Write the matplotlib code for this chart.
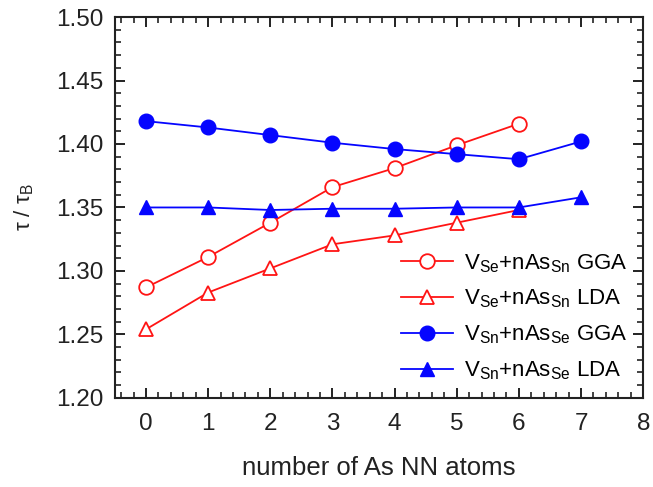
import matplotlib
matplotlib.use("Agg")
import matplotlib.pyplot as plt
from matplotlib.ticker import MultipleLocator, FormatStrFormatter

plt.rcParams['font.family'] = ['Liberation Sans', 'DejaVu Sans']
plt.rcParams['mathtext.fontset'] = 'custom'
plt.rcParams['mathtext.rm'] = 'Liberation Sans'
plt.rcParams['mathtext.it'] = 'Liberation Sans'
plt.rcParams['mathtext.bf'] = 'Liberation Sans:bold'

# number of As nearest-neighbour atoms
n_se = [0, 1, 2, 3, 4, 5, 6]
n_sn = [0, 1, 2, 3, 4, 5, 6, 7]

# lifetime ratios tau / tau_B
vse_gga = [1.287, 1.311, 1.338, 1.366, 1.381, 1.399, 1.416]
vse_lda = [1.254, 1.283, 1.302, 1.321, 1.328, 1.338, 1.348]
vsn_gga = [1.418, 1.413, 1.407, 1.401, 1.396, 1.392, 1.388, 1.402]
vsn_lda = [1.350, 1.350, 1.348, 1.349, 1.349, 1.350, 1.350, 1.358]

labels = [
    r'V$_{\mathrm{Se}}$+nAs$_{\mathrm{Sn}}$ GGA',
    r'V$_{\mathrm{Se}}$+nAs$_{\mathrm{Sn}}$ LDA',
    r'V$_{\mathrm{Sn}}$+nAs$_{\mathrm{Se}}$ GGA',
    r'V$_{\mathrm{Sn}}$+nAs$_{\mathrm{Se}}$ LDA',
]

fig = plt.figure(figsize=(6.53, 4.87), dpi=100)
ax = fig.add_axes([0.176, 0.183, 0.809, 0.782])

red = '#ff1414'
blue = '#0505ff'
ax.plot(n_se, vse_gga, '-o', color=red, lw=1.3, ms=10.5, mfc='white', mec=red, mew=1.3, label=labels[0])
ax.plot(n_se, vse_lda, '-^', color=red, lw=1.3, ms=10.5, mfc='white', mec=red, mew=1.3, label=labels[1])
ax.plot(n_sn, vsn_gga, '-o', color=blue, lw=1.3, ms=10.5, mfc=blue, mec=blue, label=labels[2])
ax.plot(n_sn, vsn_lda, '-^', color=blue, lw=1.3, ms=10.5, mfc=blue, mec=blue, label=labels[3])

ax.set_xlim(-0.5, 8)
ax.set_ylim(1.20, 1.50)
ax.xaxis.set_major_locator(MultipleLocator(1))
ax.xaxis.set_minor_locator(MultipleLocator(0.2))
ax.yaxis.set_major_locator(MultipleLocator(0.05))
ax.yaxis.set_minor_locator(MultipleLocator(0.01))
ax.yaxis.set_major_formatter(FormatStrFormatter('%.2f'))

ax.tick_params(which='both', direction='in', top=True, right=True, labelsize=17.5, colors='#222222')
ax.tick_params(which='major', length=7, width=1.4)
ax.tick_params(which='minor', length=4, width=1.2)
ax.tick_params(axis='x', which='major', pad=11)
ax.tick_params(axis='y', which='major', pad=8)
for s in ax.spines.values():
    s.set_linewidth(1.5)
    s.set_color('#222222')

ax.set_xlabel('number of As NN atoms', fontsize=18.5, labelpad=15, color='#222222')
ax.set_ylabel(r'τ / τ$_{\mathrm{B}}$', fontsize=16, labelpad=15, color='#222222')

ax.legend(loc='lower right', frameon=False, fontsize=16, handlelength=2.35,
          labelspacing=0.6, handletextpad=0.5, borderaxespad=0.3,
          bbox_to_anchor=(1.0, 0.0))

fig.savefig('out.png', dpi=100)
